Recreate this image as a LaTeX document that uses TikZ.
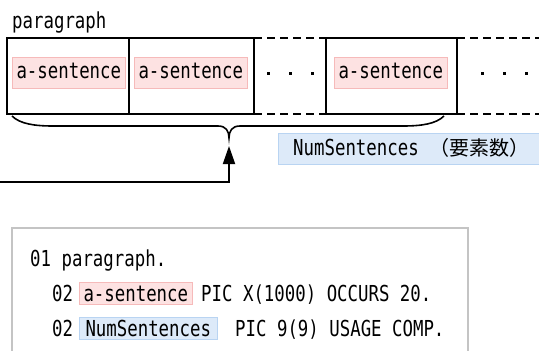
\documentclass[tikz,border=0pt]{standalone}
\usepackage{fontspec}
\usetikzlibrary{arrows.meta}
\newfontfamily\monofnt[FakeStretch=0.79]{DejaVu Sans Mono}
\newfontfamily\cjkfnt{Noto Sans CJK JP}
\definecolor{pinkfill}{HTML}{FDE2E2}
\definecolor{pinkline}{HTML}{F6BABA}
\definecolor{bluefill}{HTML}{DDEAF9}
\definecolor{blueline}{HTML}{B9D4F2}
\definecolor{boxgray}{HTML}{C4C4C4}
\tikzset{
  txt/.style={anchor=base west, inner sep=0pt},
  frame/.style={line width=1.8pt, line cap=rect},
  dashframe/.style={line width=1.8pt, dash pattern=on 8pt off 5pt},
  hlbig/.style={anchor=base west, fill=pinkfill, draw=pinkline, line width=1pt,
     inner xsep=4pt, inner ysep=0pt, text height=21pt, text depth=10pt},
  hlpink/.style={anchor=base west, fill=pinkfill, draw=pinkline, line width=1pt,
     inner xsep=4pt, inner ysep=0pt, text height=19pt, text depth=3pt},
  hlblue/.style={anchor=base west, fill=bluefill, draw=blueline, line width=1pt,
     inner xsep=6pt, inner ysep=0pt, text height=19pt, text depth=3pt},
  bracestyle/.style={line width=1.6pt},
  arr/.style={line width=1.8pt, -{Triangle[length=18pt,width=12pt]}},
  dot/.style={fill=black},
}
\begin{document}
\begin{tikzpicture}[x=1pt,y=-1pt, every node/.style={font=\fontsize{22}{26}\monofnt}]
\useasboundingbox (0,0) rectangle (539,351);
\clip (0,0) rectangle (539,351);

% title
\node[txt] (title) at (12,28) {paragraph};

% array frame
\draw[frame] (254,38) -- (7,38) -- (7,114) -- (254,114);
\draw[frame] (129,38) -- (129,114);
\draw[frame] (254,38) -- (254,114);
\draw[dashframe] (254,38) -- (326,38);
\draw[dashframe] (254,114) -- (326,114);
\draw[frame] (326,38) rectangle (457,114);
\draw[dashframe] (457,38) -- (545,38);
\draw[dashframe] (457,114) -- (545,114);

% elements
\node[hlbig] (s1) at (12,78) {a-sentence};
\node[hlbig] (s2) at (134,78) {a-sentence};
\node[hlbig] (s3) at (334,78) {a-sentence};

% dots
\foreach \x in {268,290,312,482,504,526}
  \fill[dot] (\x-1.5,71.5) rectangle ++(3,3);

% brace
\coordinate (btip) at (229,138);
\draw[bracestyle] (12,116) .. controls (20,124) and (35,126) .. (53,126) -- (218,126)
   .. controls (226,126) and (229,131) .. (btip)
   .. controls (229,131) and (232,126) .. (240,126) -- (403,126)
   .. controls (421,126) and (436,124) .. (444,116);

% arrow
\coordinate (src) at (-3,182);
\coordinate (atip) at (229,146);
\draw[arr] (src) -| (atip);

% NumSentences label
\fill[bluefill] (278,133) rectangle (545,164);
\draw[blueline, line width=1pt] (545,133) -- (278,133) -- (278,164) -- (545,164);
\node[txt] (numlbl) at (293,155) {NumSentences {\fontsize{20}{24}\cjkfnt （要素数）}};

% code box
\draw[boxgray, line width=1.3pt] (12,228) rectangle (468,370);
\node[txt] (c1) at (30,266) {01 paragraph.};
\node[txt] (c2a) at (52,301) {02};
\node[hlpink] (c2b) at (79,301) {a-sentence};
\node[txt] (c2c) at (201,301) {PIC X(1000) OCCURS 20.};
\node[txt] (c3a) at (52,336) {02};
\node[hlblue] (c3b) at (79,336) {NumSentences\hspace{2pt}};
\node[txt] (c3c) at (235,336) {PIC 9(9) USAGE COMP.};
\end{tikzpicture}
\end{document}
